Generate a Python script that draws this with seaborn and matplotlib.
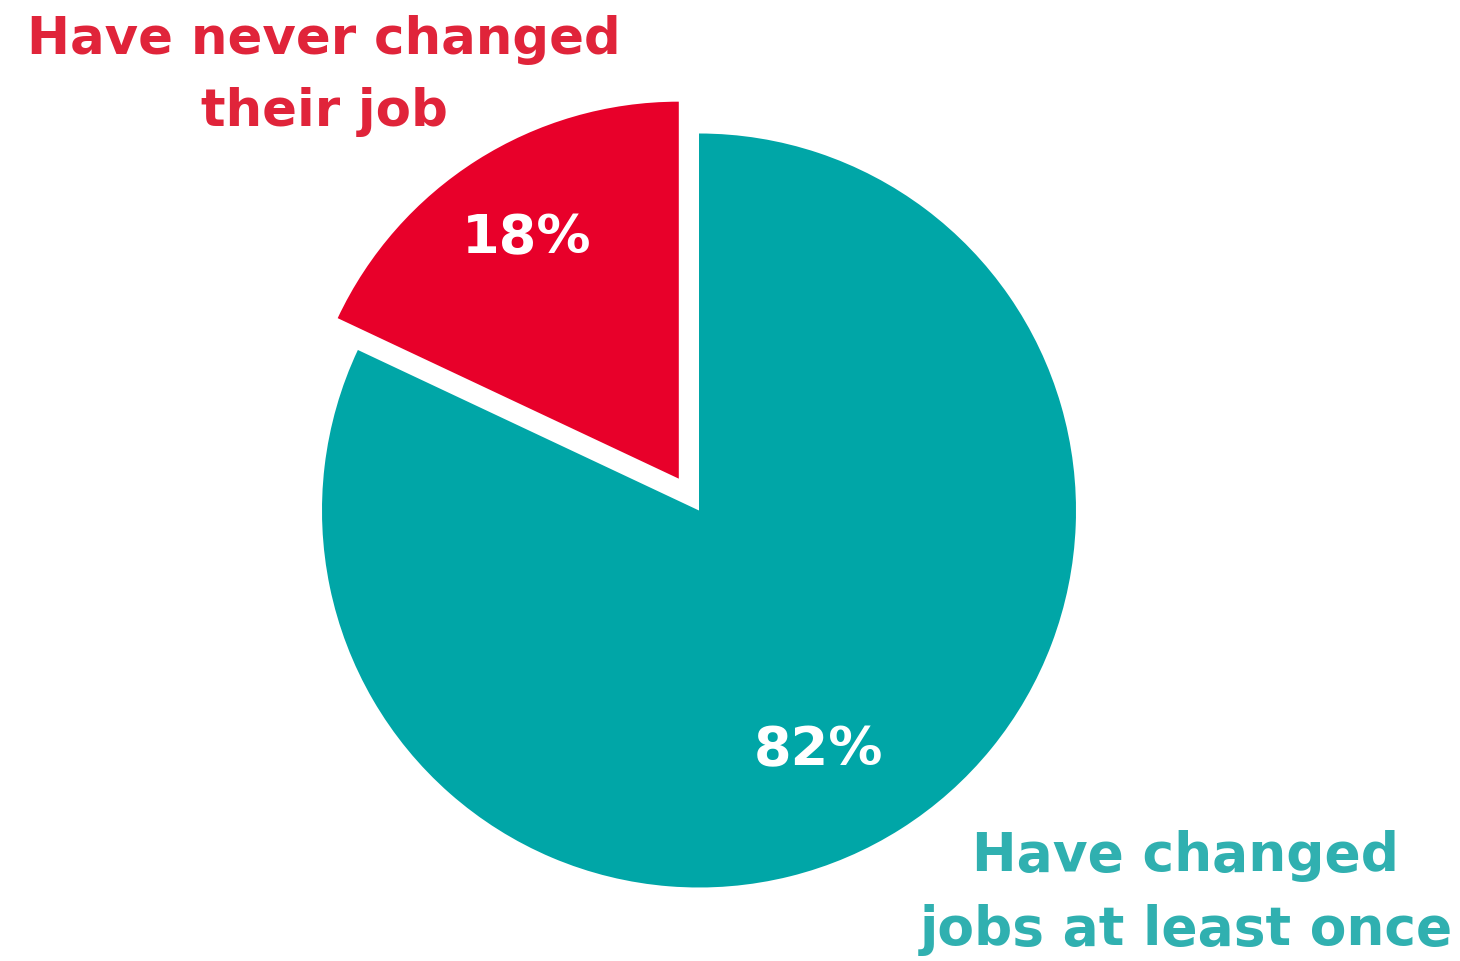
import matplotlib
matplotlib.use('Agg')
import matplotlib.pyplot as plt
import seaborn as sns

# data
labels = ['Have changed\njobs at least once', 'Have never changed\ntheir job']
shares = [82, 18]
wedge_colors = ['#00A6A7', '#E8002A']
label_colors = ['#30B0B0', '#E0243A']

sns.set_style('white')
plt.rcParams['font.family'] = ['DejaVu Sans']

fig = plt.figure(figsize=(14.6, 9.62), dpi=100)
ax = fig.add_axes([0, 0, 1, 1])

radius = 377
# y axis is flipped below, so counterclock=True draws clockwise on screen
wedges, _ = ax.pie(shares, colors=wedge_colors, startangle=-90, counterclock=True,
                   center=(699, 511.5), radius=radius, explode=[0, 0.1 * radius],
                   wedgeprops=dict(linewidth=0))
ax.set_xlim(0, 1460)
ax.set_ylim(962, 0)
ax.set_aspect('equal')
ax.axis('off')

# percentage labels
ax.text(819, 750, f'{shares[0]}%', color='white', fontsize=39, fontweight='bold',
        ha='center', va='center')
ax.text(527, 238, f'{shares[1]}%', color='white', fontsize=39, fontweight='bold',
        ha='center', va='center')

# category labels
ax.text(324, 76, labels[1], color=label_colors[1], fontsize=37, fontweight='bold',
        ha='center', va='center', linespacing=1.55)
ax.text(1186, 893, labels[0], color=label_colors[0], fontsize=38.5, fontweight='bold',
        ha='center', va='center', linespacing=1.55)

fig.savefig('out.png', dpi=100)
